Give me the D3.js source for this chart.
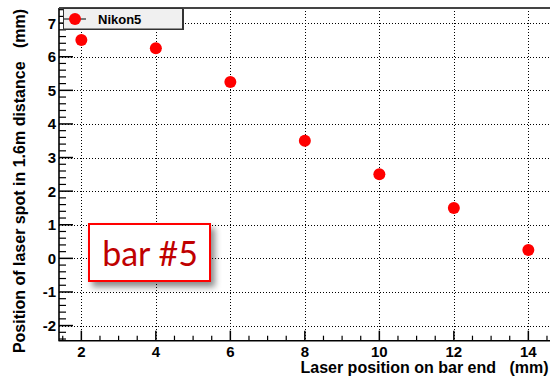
<!DOCTYPE html>
<html><head><meta charset="utf-8">
<script src="https://cdn.jsdelivr.net/npm/d3@7"></script>
<style>body{margin:0;background:#fff}svg{display:block}</style>
</head><body>
<script>
const xValues = [2, 4, 6, 8, 10, 12, 14];
const yValues = [6.5, 6.25, 5.25, 3.5, 2.5, 1.5, 0.25];
const xTicks = [2, 4, 6, 8, 10, 12, 14];
const yTicks = [-2, -1, 0, 1, 2, 3, 4, 5, 6, 7];
const seriesName = "Nikon5";
const xLabel = "Laser position on bar end   (mm)";
const yLabel = "Position of laser spot in 1.6m distance   (mm)";
const annotation = "bar #5";

const W = 550, H = 376;
const L = 59, T = 8, R = 550.7, B = 340.7;
const svg = d3.select("body").append("svg").attr("width", W).attr("height", H);
const defs = svg.append("defs");
const f = defs.append("filter").attr("id","sh").attr("x","-20%").attr("y","-20%").attr("width","150%").attr("height","160%");
f.append("feDropShadow").attr("dx",4).attr("dy",5).attr("stdDeviation",3).attr("flood-color","#000").attr("flood-opacity",0.45);

const x = d3.scaleLinear().domain([1.4, 14.6]).range([L, R]);
const y = d3.scaleLinear().domain([-2.45, 7.45]).range([B, T]);

const font = "'Liberation Sans', Arial, sans-serif";

// grid
const g = svg.append("g");
g.selectAll(".gx").data(xTicks).enter().append("line")
  .attr("x1", d => Math.round(x(d)) + 0.5).attr("x2", d => Math.round(x(d)) + 0.5)
  .attr("y1", T).attr("y2", B)
  .attr("stroke", "#000").attr("stroke-width", 1).attr("stroke-dasharray", "1,2");
g.selectAll(".gy").data(yTicks).enter().append("line")
  .attr("y1", d => Math.round(y(d)) + 0.5).attr("y2", d => Math.round(y(d)) + 0.5)
  .attr("x1", L).attr("x2", R)
  .attr("stroke", "#000").attr("stroke-width", 1).attr("stroke-dasharray", "1,2");

// minor ticks
const yMinor = d3.range(-2.4, 7.45, 0.2).filter(v => Math.abs(v - Math.round(v)) > 1e-6);
svg.selectAll(".ymn").data(yMinor).enter().append("line")
  .attr("x1", L).attr("x2", L + 7)
  .attr("y1", d => y(d)).attr("y2", d => y(d))
  .attr("stroke", "#000").attr("stroke-width", 1.2);
svg.selectAll(".ymj").data(yTicks).enter().append("line")
  .attr("x1", L).attr("x2", L + 14)
  .attr("y1", d => y(d)).attr("y2", d => y(d))
  .attr("stroke", "#000").attr("stroke-width", 1.5);
const xMinor = d3.range(1.5, 14.6, 0.5).filter(v => Math.abs(v / 2 - Math.round(v / 2)) > 1e-6);
svg.selectAll(".xmn").data(xMinor).enter().append("line")
  .attr("x1", d => x(d)).attr("x2", d => x(d))
  .attr("y1", B).attr("y2", B - 5)
  .attr("stroke", "#000").attr("stroke-width", 1.2);
svg.selectAll(".xmj").data(xTicks).enter().append("line")
  .attr("x1", d => x(d)).attr("x2", d => x(d))
  .attr("y1", B).attr("y2", B - 10)
  .attr("stroke", "#000").attr("stroke-width", 1.5);

// axes lines
svg.append("line").attr("x1", L - 0.5).attr("x2", R).attr("y1", B).attr("y2", B).attr("stroke", "#000").attr("stroke-width", 1.6);
svg.append("line").attr("x1", L).attr("x2", L).attr("y1", T).attr("y2", B).attr("stroke", "#000").attr("stroke-width", 1.6);
svg.append("line").attr("x1", L).attr("x2", R).attr("y1", T).attr("y2", T).attr("stroke", "#444").attr("stroke-width", 2);

// tick labels
svg.selectAll(".xl").data(xTicks).enter().append("text")
  .attr("x", d => x(d)).attr("y", 357.3).attr("text-anchor", "middle")
  .attr("font-family", font).attr("font-weight", "bold").attr("font-size", 15).attr("fill", "#000")
  .text(d => d);
svg.selectAll(".yl").data(yTicks).enter().append("text")
  .attr("x", 56).attr("y", d => y(d) + 5.4).attr("text-anchor", "end")
  .attr("font-family", font).attr("font-weight", "bold").attr("font-size", 15).attr("fill", "#000")
  .text(d => d);

// axis titles
svg.append("text").attr("x", 548.5).attr("y", 372.7).attr("text-anchor", "end")
  .attr("font-family", font).attr("font-weight", "bold").attr("font-size", 16).attr("fill", "#000")
  .style("white-space", "pre")
  .text(xLabel);
svg.append("text").attr("transform", "translate(25,9) rotate(-90)").attr("text-anchor", "end")
  .attr("font-family", font).attr("font-weight", "bold").attr("font-size", 16).attr("fill", "#000")
  .style("white-space", "pre")
  .text(yLabel);

// points
svg.selectAll(".pt").data(xValues.map((v, i) => [v, yValues[i]])).enter().append("circle")
  .attr("cx", d => x(d[0])).attr("cy", d => y(d[1])).attr("r", 6).attr("fill", "#ff0000");

// legend
const lg = svg.append("g");
lg.append("rect").attr("x", 64).attr("y", 9).attr("width", 120).attr("height", 21)
  .attr("fill", "#333");
lg.append("rect").attr("x", 63.5).attr("y", 8.5).attr("width", 119).attr("height", 20.5)
  .attr("fill", "#f0f0f0").attr("stroke", "#333").attr("stroke-width", 1);
lg.append("line").attr("x1", 64).attr("x2", 86).attr("y1", 19).attr("y2", 19).attr("stroke", "#000").attr("stroke-width", 1);
lg.append("circle").attr("cx", 75).attr("cy", 19).attr("r", 6).attr("fill", "#ff0000");
lg.append("text").attr("x", 98).attr("y", 24).attr("font-family", font).attr("font-weight", "bold")
  .attr("font-size", 13).attr("fill", "#000").text(seriesName);

// annotation
const an = svg.append("g");
an.append("rect").attr("x", 89).attr("y", 224).attr("width", 121).attr("height", 57)
  .attr("fill", "#fff").attr("stroke", "#ff0000").attr("stroke-width", 2).attr("filter", "url(#sh)");
an.append("text").attr("x", 150).attr("y", 266).attr("text-anchor", "middle")
  .attr("font-family", "Lato, 'Open Sans', sans-serif").attr("font-size", 34).attr("fill", "#c00000")
  .text(annotation);
</script>
</body></html>
